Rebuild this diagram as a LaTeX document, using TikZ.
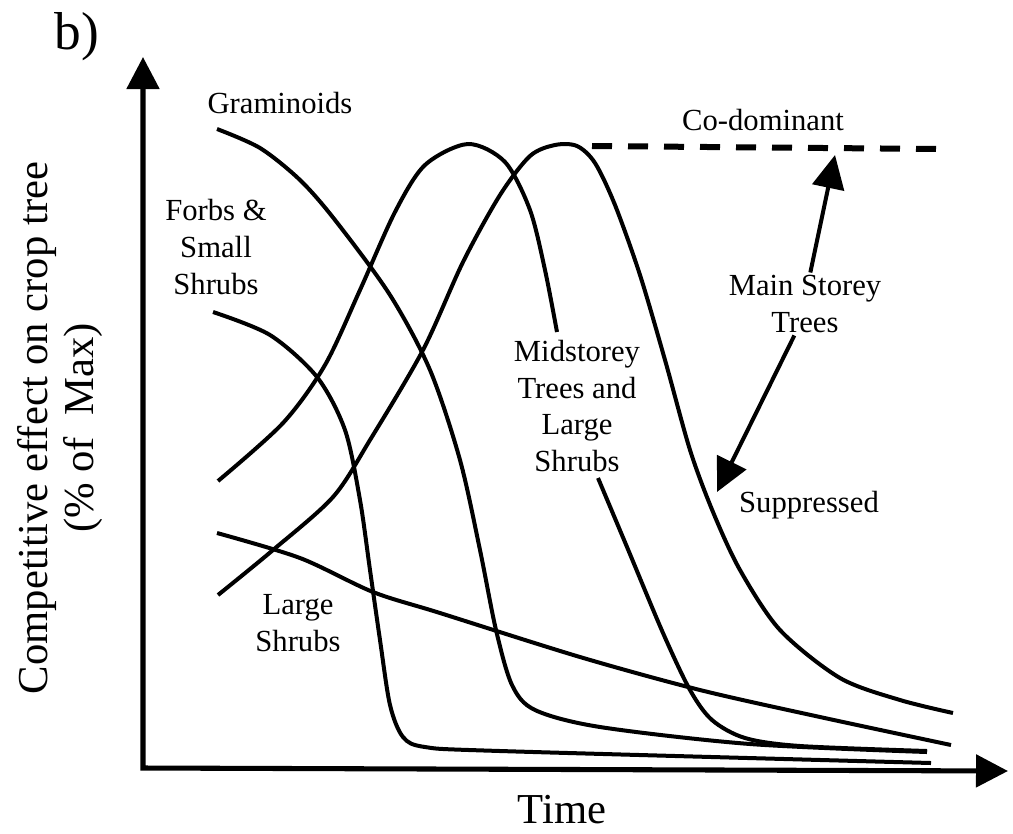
\documentclass[tikz,border=0pt]{standalone}
\usepackage{fontspec}
\setmainfont{Liberation Serif}
\usetikzlibrary{arrows.meta}

\tikzset{
    axis/.style={line width=3.8pt, {Triangle[length=24pt,width=24pt]}-{Triangle[length=24pt,width=24pt]}},
    curve/.style={line width=3pt, line join=round},
    codash/.style={line width=4.5pt, dash pattern=on 15pt off 12pt},
    arr/.style={line width=3pt, -{Triangle[length=25pt,width=24pt]}},
    lbl/.style={font=\fontsize{23}{27.4}\selectfont, align=center, inner sep=0pt},
    biglbl/.style={font=\fontsize{32}{34}\selectfont, align=center, inner sep=0pt},
}

\begin{document}
\begin{tikzpicture}[x=0.75pt, y=-0.75pt]  % 以像素为单位

    \useasboundingbox (0,0) rectangle (1013,833);

    % 绘制坐标轴
    \coordinate (O) at (143,768);
    \coordinate (ytip) at (143,57);
    \coordinate (xtip) at (1008,771);
    \draw[axis] (ytip) -- (O) -- (xtip);

    % 草本
    \draw[curve] plot[smooth] coordinates {(217,129) (260,148) (300,180) (335,220) (390,295) (430,370)
        (460,460) (480,550) (496,630) (512,685) (535,710) (600,727) (750,744) (927,752)};

    % 杂类草与小灌木
    \draw[curve] plot[smooth] coordinates {(213,312) (270,335) (317,377) (345,430) (360,500) (370,570)
        (380,640) (390,705) (403,737) (425,747) (500,751) (931,763)};

    % 大灌木
    \draw[curve] plot[smooth] coordinates {(217,533) (300,558) (373,592) (440,613) (580,657) (700,690)
        (820,717) (951,745)};

    % 中层树木 (文字处断开)
    \draw[curve] plot[smooth] coordinates {(218,481) (283,423) (325,365) (360,290) (395,212) (425,165)
        (468,144) (505,162) (530,210) (545,270) (557,332)};
    \draw[curve] plot[smooth] coordinates {(598,478) (627,547) (663,633) (690,690) (712,720) (745,738)
        (800,746) (927,751)};

    % 主林层树木 -> 被压
    \draw[curve] plot[smooth] coordinates {(218,595) (273,550) (333,497) (370,440) (423,350) (463,262)
        (500,195) (530,156) (555,145) (577,146) (595,163) (615,205) (640,275) (665,360) (690,450)
        (713,512) (740,570) (780,630) (840,678) (900,700) (953,713)};

    % 共优势 虚线
    \coordinate (peak) at (592,146);
    \coordinate (dashend) at (940,149);
    \draw[codash] (peak) -- (dashend);

    % 标签
    \node[biglbl, font=\fontsize{40}{44}\selectfont] (panel) at (77,37) {b)};
    \node[lbl] (gram) at (280,103) {Graminoids};
    \node[lbl] (forbs) at (216,247) {Forbs \&\\Small\\Shrubs};
    \node[lbl] (codom) at (763,120) {Co-dominant};
    \node[lbl] (main) at (805,304) {Main Storey\\Trees};
    \node[lbl] (mid) at (577,406) {Midstorey\\Trees and\\Large\\Shrubs};
    \node[lbl] (supp) at (809,505) {Suppressed};
    \node[lbl] (large) at (298,623) {Large\\Shrubs};
    \node[font=\fontsize{32}{34}\selectfont, inner sep=0pt, anchor=base] (time) at (562,823) {Time};
    \node[biglbl, rotate=90] (ylab) at (60,428) {Competitive effect on crop tree\\(\% of~ Max)};

    % 双向箭头
    \coordinate (uptip) at (835,155);
    \coordinate (downtip) at (717,492);
    \draw[arr] ([xshift=4pt,yshift=2pt]main.north) -- (uptip);
    \draw[arr] ([xshift=-8pt,yshift=-2pt]main.south) -- (downtip);

\end{tikzpicture}
\end{document}
